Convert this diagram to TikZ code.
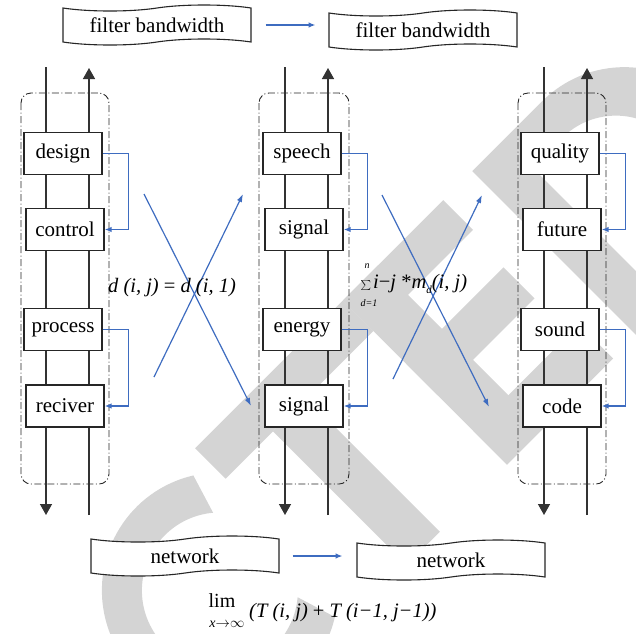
\documentclass[tikz,border=0pt]{standalone}
\usepackage{fontspec}
\setmainfont{Liberation Serif}
\usetikzlibrary{arrows.meta,shapes.symbols}
\definecolor{wmgray}{RGB}{212,212,212}
\definecolor{linkblue}{RGB}{62,108,192}
\tikzset{
  rail/.style={draw=black!80, line width=1.4pt},
  railtip/.style={-{Triangle[length=11pt,width=12pt]}},
  stage/.style={draw=black!85, line width=1.2pt, fill=white, minimum width=78pt,
    minimum height=42pt, inner sep=0pt, font=\fontsize{21}{25}\selectfont},
  frame/.style={draw=black!85, line width=0.9pt, rounded corners=10pt,
    dash pattern=on 7pt off 2.5pt on 1pt off 2.5pt},
  feedback/.style={draw=linkblue, line width=1.6pt, -{Latex[length=7pt,width=5.5pt]}},
  cross/.style={draw=linkblue, line width=1.2pt, -{Latex[length=8pt,width=5.5pt]}},
  banner/.style={tape, draw=black!85, fill=white, line width=1.1pt,
    tape bend top=in and out, tape bend bottom=in and out, tape bend height=6pt,
    minimum width=188pt, minimum height=40pt, inner sep=0pt,
    font=\fontsize{21}{25}\selectfont},
  formula/.style={inner sep=0pt, font=\fontsize{20.5}{24}\selectfont},
  wm/.style={fill=wmgray, draw=none},
}
\begin{document}
\begin{tikzpicture}[x=1pt, y=-1pt]
\useasboundingbox (0,0) rectangle (636,633);

% background lettering, rotated by 45 degrees
\begin{scope}
  \clip (0,0) rectangle (636,633);
  \begin{scope}[shift={(485.78pt,-485.78pt)}, rotate=45, x=1pt, y=1pt]
    % C
    \fill[wm] ([shift={(-262,114)}]58:118) arc[start angle=58, end angle=302, radius=118]
      -- ([shift={(-262,114)}]310:78) arc[start angle=310, end angle=50, radius=78] -- cycle;
    % T
    \fill[wm] (-179,189) rectangle (30,232);
    \fill[wm] (-112,0) rectangle (-65,189);
    % E
    \fill[wm] (30,0) rectangle (80,232);
    \fill[wm] (30,190) rectangle (172,232);
    \fill[wm] (30,98) rectangle (167,142);
    \fill[wm] (30,0) rectangle (180,48);
    % D
    \fill[wm, even odd rule] (213,0) -- (213,232) -- (312,232)
      arc[start angle=90, end angle=-90, radius=116] -- cycle
      (258,40) -- (258,192) -- (300,192)
      arc[start angle=90, end angle=-90, radius=76] -- cycle;
  \end{scope}
\end{scope}

% dash-dotted groups
\draw[frame] (21,93) rectangle (109,484);
\draw[frame] (259,93) rectangle (349,484);
\draw[frame] (518,93) rectangle (606,484);

% rails: left one runs down, right one runs up
\coordinate (a1) at (46,67);  \coordinate (a2) at (46,515);
\coordinate (b1) at (89,515); \coordinate (b2) at (89,68);
\coordinate (c1) at (285,67); \coordinate (c2) at (285,515);
\coordinate (d1) at (328,515);\coordinate (d2) at (328,68);
\coordinate (e1) at (544,67); \coordinate (e2) at (544,515);
\coordinate (f1) at (587,515);\coordinate (f2) at (587,68);
\draw[rail, railtip] (a1) -- (a2);
\draw[rail, railtip] (b1) -- (b2);
\draw[rail, railtip] (c1) -- (c2);
\draw[rail, railtip] (d1) -- (d2);
\draw[rail, railtip] (e1) -- (e2);
\draw[rail, railtip] (f1) -- (f2);

% stages
\node[stage] (design)  at (63,153.5) {design};
\node[stage] (control) at (65,229.5) {control};
\node[stage] (process) at (63,329.5) {process};
\node[stage] (reciver) at (65,406)   {reciver};

\node[stage] (speech)  at (302,153.5) {speech};
\node[stage] (signalA) at (304,229.5) {signal};
\node[stage] (energy)  at (302,329.5) {energy};
\node[stage] (signalB) at (304,406)   {signal};

\node[stage] (quality) at (560,153.5) {quality};
\node[stage] (future)  at (562,229.5) {future};
\node[stage] (sound)   at (560,329.5) {sound};
\node[stage] (code)    at (562,406)   {code};

% feedback loops
\draw[feedback] (design.east)  -- ++(26,0) |- (control.east);
\draw[feedback] (process.east) -- ++(26,0) |- (reciver.east);
\draw[feedback] (speech.east)  -- ++(26,0) |- (signalA.east);
\draw[feedback] (energy.east)  -- ++(26,0) |- (signalB.east);
\draw[feedback] (quality.east) -- ++(26,0) |- (future.east);
\draw[feedback] (sound.east)   -- ++(26,0) |- (code.east);

% crossing links
\coordinate (p1) at (144,194); \coordinate (p2) at (251,406);
\coordinate (q1) at (154,377); \coordinate (q2) at (243,194);
\coordinate (r1) at (382,195); \coordinate (r2) at (489,407);
\coordinate (s1) at (393,379); \coordinate (s2) at (482,195);
\draw[cross] (p1) -- (p2);
\draw[cross] (q1) -- (q2);
\draw[cross] (r1) -- (r2);
\draw[cross] (s1) -- (s2);

% formulas
\node[formula] (eqd) at (172,288) {\textit{d (i, j)} = \textit{d (i, 1)}};
\node[inner sep=0pt, font=\fontsize{19}{20}\selectfont] (sumsign) at (366,285) {$\sum$};
\node[inner sep=0pt, font=\fontsize{10}{12}\selectfont] (sumtop) at (367,266) {\textit{n}};
\node[inner sep=0pt, font=\fontsize{10}{12}\selectfont] (sumbot) at (369,303) {\textit{d=1}};
\node[formula, anchor=west] (sumbody) at (373,284)
  {\textit{i}−\textit{j} *\textit{m}\raisebox{-5pt}{\fontsize{11}{12}\selectfont\textit{d}}\textit{(i, j)}};

\node[inner sep=0pt, font=\fontsize{20}{20}\selectfont] (limword) at (222,601) {lim};
\node[inner sep=0pt, font=\fontsize{14}{14}\selectfont] (limsub) at (227,624.5)
  {\textit{x}$\mathord{\rightarrow}\mathord{\infty}$};
\node[formula, anchor=west] (limbody) at (249,613) {\textit{(T (i, j)} + \textit{T (i−1, j−1))}};

% banners
\node[banner] (fbA) at (157,25)   {filter bandwidth};
\node[banner] (fbB) at (423,30)   {filter bandwidth};
\node[banner] (nwA) at (185,556)  {network};
\node[banner] (nwB) at (451,560)  {network};
\draw[feedback] (fbA.east) ++(14,0) coordinate (t1) -- ++(50,0) coordinate (t2);
\draw[feedback] (nwA.east) ++(13,0) coordinate (u1) -- ++(50,0) coordinate (u2);
\end{tikzpicture}
\end{document}
